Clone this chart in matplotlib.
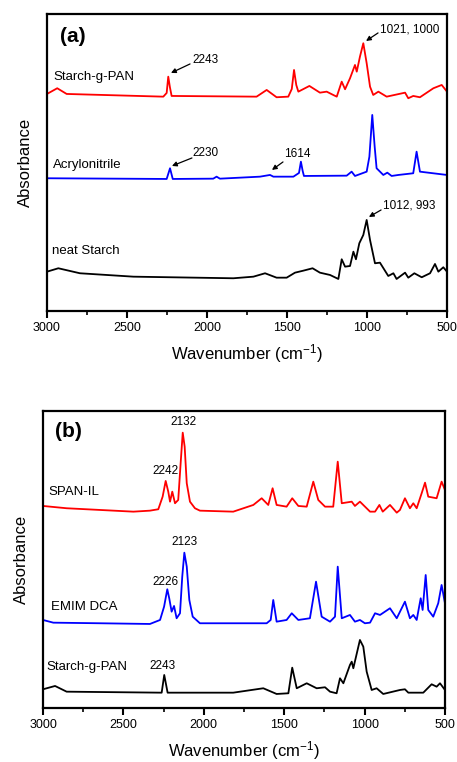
# -*- coding: utf-8 -*-

import matplotlib
matplotlib.use('Agg')
import matplotlib.pyplot as plt
from matplotlib.ticker import MultipleLocator

plt.rcParams['font.family'] = ['Liberation Sans', 'DejaVu Sans']
plt.rcParams['mathtext.default'] = 'regular'

# ---- panel (a) spectra (wavenumber, absorbance a.u.) ----
a_pan_wn = [3000, 2936, 2877, 2273, 2252, 2242, 2232, 2221, 1690, 1627, 1565, 1492, 1470, 1456,
            1442, 1429, 1360, 1294, 1252, 1211, 1189, 1158, 1137, 1106, 1075, 1064, 1044,
            1023, 1002, 981, 961, 929, 877, 762, 742, 711, 669, 585, 533, 500]
a_pan_y = [217, 222.7, 217, 214.3, 218, 234.3, 224, 215, 214.3, 221, 213.7, 214.3, 222, 241,
           226, 219.3, 225, 218.3, 219.3, 216, 214.3, 229.3, 221.7, 232.7, 246, 239.3, 254.3,
           267.7, 247.7, 224.3, 216, 219.3, 214.3, 218.3, 212.7, 215, 213.7, 222.7, 226, 219.3]

a_acn_wn = [3000, 2252, 2231, 2214, 1961, 1940, 1919, 1669, 1606, 1585, 1460, 1425, 1413, 1402,
            1394, 1127, 1096, 1075, 1002, 985, 967, 952, 940, 898, 873, 846, 804, 711,
            690, 669, 500]
a_acn_y = [132.7, 132, 142.7, 132, 132.3, 134.3, 132.3, 134.3, 136, 134.3, 134.3, 138, 149.3, 140,
           135, 135.3, 139.3, 135, 139.3, 154.3, 196, 164.3, 142.7, 136, 138.3, 135, 136, 137.7,
           159.3, 139.3, 136]

a_starch_wn = [3000, 2929, 2794, 2460, 1835, 1710, 1637, 1565, 1502, 1450, 1398, 1340, 1294,
               1231, 1179, 1158, 1137, 1106, 1085, 1069, 1048, 1023, 1002, 981, 950, 919,
               867, 835, 815, 762, 742, 704, 658, 606, 575, 554, 523, 500]
a_starch_y = [39.3, 42.7, 37.7, 34.3, 32.7, 34.3, 37.7, 33.3, 33.3, 38.3, 40.3, 42.7, 38.3,
              36, 32, 51.7, 44.3, 45, 59.3, 51.7, 67.7, 76, 91, 71, 47.7, 48.3,
              35, 37.7, 32, 38.3, 33.3, 37.7, 33.7, 37.7, 47, 39.3, 43.7, 39.3]

# ---- panel (b) spectra ----
b_span_wn = [3000, 2853, 2438, 2335, 2283, 2256, 2237, 2221, 2210, 2196, 2179, 2159, 2144,
             2131, 2119, 2106, 2086, 2055, 2024, 1817, 1692, 1640, 1599, 1572, 1547, 1485,
             1450, 1412, 1360, 1319, 1288, 1246, 1195, 1167, 1142, 1080, 1060, 1029, 966,
             935, 908, 887, 842, 800, 780, 749, 718, 697, 676, 645, 624, 604, 552, 521, 500]
b_span_y = [202, 199.7, 196.3, 197.3, 198.7, 211.3, 227, 216.3, 206.3, 216.3, 204.7, 208, 244.7,
            275.3, 261.3, 224.7, 206.3, 199.7, 197.3, 196.3, 203, 209.7, 203, 219.7, 203, 201.3,
            209.7, 202, 201.3, 226.3, 208, 201.3, 201.3, 246.3, 204.7, 206.3, 202, 206.3, 196.3,
            196.3, 203, 196.3, 203, 195.3, 198, 209.7, 199.7, 204.7, 199.7, 214.7, 225.3, 211.3,
            209.7, 226.3, 218]

b_emim_wn = [3000, 2936, 2646, 2335, 2272, 2247, 2227, 2215, 2200, 2185, 2169, 2148, 2134,
             2121, 2106, 2090, 2069, 2024, 1609, 1584, 1568, 1547, 1485, 1453, 1412, 1340,
             1302, 1267, 1215, 1184, 1167, 1142, 1091, 1060, 1029, 998, 966, 935, 904, 842,
             800, 749, 718, 697, 676, 651, 639, 620, 604, 573, 542, 521, 500]
b_emim_y = [88, 85.3, 84.7, 84, 88, 101.3, 118.7, 109.7, 96.3, 102, 89.7, 94.7, 131.3,
            155.3, 141.3, 108, 91.3, 84.7, 84.7, 88, 108, 86.3, 88, 94.7, 88, 89.7,
            126.3, 91.3, 86.3, 91.3, 141.3, 89.7, 93, 86.3, 88, 84.7, 85.3, 94.7, 93, 99.7,
            89.7, 106.3, 89.7, 93, 88, 109.7, 98, 133, 98, 91.3, 104.7, 123, 104.7]

b_pan_wn = [3000, 2925, 2853, 2262, 2246, 2225, 1817, 1630, 1547, 1474, 1450, 1422, 1360,
            1298, 1246, 1215, 1174, 1153, 1132, 1091, 1080, 1070, 1029, 1008, 987, 956,
            925, 884, 780, 749, 728, 635, 583, 552, 531, 500]
b_pan_y = [18.7, 22, 16.3, 15.3, 33, 15.3, 15.3, 19.7, 14, 14.7, 40.3, 19.7, 24.7,
           19.7, 20.7, 16.3, 14.7, 29.7, 24.7, 43, 46.3, 39.7, 68, 61.3, 36.3, 18,
           19.7, 14, 18, 18.7, 15.3, 15.3, 23.7, 21.3, 24.7, 18]

xticks = [3000, 2500, 2000, 1500, 1000, 500]


def style_axis(ax):
    ax.set_xlim(3000, 500)
    ax.set_ylim(0, 297)
    ax.set_xticks(xticks)
    ax.xaxis.set_minor_locator(MultipleLocator(250))
    ax.set_yticks([])
    ax.tick_params(axis='x', which='major', direction='out', length=5, width=1.5,
                   labelsize=9, pad=3)
    ax.tick_params(axis='x', which='minor', direction='out', length=3, width=1.2)
    for s in ax.spines.values():
        s.set_linewidth(1.6)
    ax.set_xlabel('Wavenumber (cm$^{-1}$)', fontsize=12, labelpad=6)
    ax.set_ylabel('Absorbance', fontsize=12, labelpad=10)


def arrow(ax, start, end):
    ax.annotate('', xy=end, xytext=start,
                arrowprops=dict(arrowstyle='-|>', color='k', lw=0.9,
                                mutation_scale=7, shrinkA=0, shrinkB=0))


fig = plt.figure(figsize=(4.57, 7.62), dpi=100)

# panel (a)
ax1 = fig.add_axes([0.1028, 0.5919, 0.8753, 0.3898])
ax1.plot(a_pan_wn, a_pan_y, color='#ff0000', lw=1.3)
ax1.plot(a_acn_wn, a_acn_y, color='#0000ff', lw=1.3)
ax1.plot(a_starch_wn, a_starch_y, color='k', lw=1.3)
style_axis(ax1)
ax1.text(2919, 274, '(a)', fontsize=15, fontweight='bold', va='center')
ax1.text(2962, 234, 'Starch-g-PAN', fontsize=9.5, va='center')
ax1.text(2962, 146, 'Acrylonitrile', fontsize=9.5, va='center')
ax1.text(2969, 60, 'neat Starch', fontsize=9.5, va='center')
ax1.text(2094, 251, '2243', fontsize=8.5, va='center')
arrow(ax1, (2106, 247), (2225, 238))
ax1.text(2088, 158, '2230', fontsize=8.5, va='center')
arrow(ax1, (2094, 153), (2219, 145))
ax1.text(1519, 157, '1614', fontsize=8.5, va='center')
arrow(ax1, (1525, 149), (1594, 141))
ax1.text(919, 281, '1021, 1000', fontsize=8.5, va='center')
arrow(ax1, (931, 278), (1006, 270))
ax1.text(900, 105, '1012, 993', fontsize=8.5, va='center')
arrow(ax1, (912, 101), (988, 94))

# panel (b)
ax2 = fig.add_axes([0.0941, 0.0709, 0.8796, 0.3898])
ax2.plot(b_span_wn, b_span_y, color='#ff0000', lw=1.3)
ax2.plot(b_emim_wn, b_emim_y, color='#0000ff', lw=1.3)
ax2.plot(b_pan_wn, b_pan_y, color='k', lw=1.3)
style_axis(ax2)
ax2.text(2925, 276, '(b)', fontsize=15, fontweight='bold', va='center')
ax2.text(2969, 216, 'SPAN-IL', fontsize=9.5, va='center')
ax2.text(2950, 101, 'EMIM DCA', fontsize=9.5, va='center')
ax2.text(2981, 41, 'Starch-g-PAN', fontsize=9.5, va='center')
ax2.text(2129, 286, '2132', fontsize=8.5, ha='center', va='center')
ax2.text(2241, 237, '2242', fontsize=8.5, ha='center', va='center')
ax2.text(2123, 166, '2123', fontsize=8.5, ha='center', va='center')
ax2.text(2241, 126, '2226', fontsize=8.5, ha='center', va='center')
ax2.text(2254, 42, '2243', fontsize=8.5, ha='center', va='center')

fig.savefig('out.png', dpi=100)
